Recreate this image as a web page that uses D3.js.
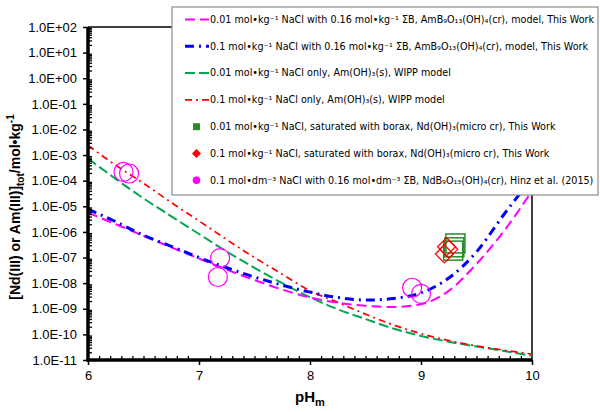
<!DOCTYPE html>
<html><head><meta charset="utf-8">
<script src="https://cdn.jsdelivr.net/npm/d3@7"></script>
<style>body{margin:0;background:#fff}svg{display:block}</style>
</head><body>
<svg id="c" width="600" height="412"></svg>
<script>
// ---- data ----
const pHGrid = [6.0,6.25,6.5,6.75,7.0,7.25,7.5,7.75,8.0,8.25,8.5,8.75,9.0,9.25,9.5,9.75,10.0];
const model001B = [5.62e-6,2.00e-6,7.08e-7,2.51e-7,9.12e-8,3.39e-8,1.32e-8,5.62e-9,2.75e-9,1.74e-9,1.32e-9,1.17e-9,1.51e-9,5.01e-9,5.62e-8,1.12e-6,3.98e-5];
const model01B  = [7.76e-6,2.51e-6,7.41e-7,2.75e-7,1.00e-7,3.98e-8,1.74e-8,8.32e-9,4.47e-9,2.75e-9,2.19e-9,2.51e-9,4.17e-9,1.58e-8,1.66e-7,5.01e-6,1.26e-4];
const wipp001   = [7.41e-4,1.17e-4,2.04e-5,4.07e-6,8.32e-7,1.70e-7,3.98e-8,1.00e-8,2.82e-9,9.55e-10,3.98e-10,1.70e-10,8.71e-11,5.13e-11,3.39e-11,2.24e-11,1.45e-11];
const wipp01    = [2.40e-3,3.98e-4,7.94e-5,1.41e-5,2.69e-6,5.01e-7,1.00e-7,2.24e-8,5.01e-9,1.78e-9,6.17e-10,2.34e-10,1.07e-10,5.75e-11,3.55e-11,2.40e-11,1.70e-11];
const borax001PH = [9.31,9.29,9.30];
const borax001C  = [3.55e-7,1.86e-7,2.51e-7];
const borax01PH  = [9.23,9.21,9.25];
const borax01C   = [2.63e-7,1.38e-7,2.09e-7];
const hinzPH = [6.32,6.37,7.19,7.17,8.92,9.00];
const hinzC  = [2.19e-4,1.91e-4,9.55e-8,1.74e-8,6.61e-9,3.80e-9];
const xTicks = [6,7,8,9,10];
const yTicks = [1e2,1e1,1e0,1e-1,1e-2,1e-3,1e-4,1e-5,1e-6,1e-7,1e-8,1e-9,1e-10,1e-11];
const yTickLabels = ["1.0E+02","1.0E+01","1.0E+00","1.0E-01","1.0E-02","1.0E-03","1.0E-04","1.0E-05","1.0E-06","1.0E-07","1.0E-08","1.0E-09","1.0E-10","1.0E-11"];
const legendTexts = [
  "0.01 mol\u2022kg\u207B\u00B9 NaCl with 0.16 mol\u2022kg\u207B\u00B9 \u03A3B, AmB\u2089O\u2081\u2083(OH)\u2084(cr), model, This Work",
  "0.1 mol\u2022kg\u207B\u00B9 NaCl with 0.16 mol\u2022kg\u207B\u00B9 \u03A3B, AmB\u2089O\u2081\u2083(OH)\u2084(cr), model, This Work",
  "0.01 mol\u2022kg\u207B\u00B9 NaCl only, Am(OH)\u2083(s), WIPP model",
  "0.1 mol\u2022kg\u207B\u00B9 NaCl only, Am(OH)\u2083(s), WIPP model",
  "0.01 mol\u2022kg\u207B\u00B9 NaCl, saturated with borax, Nd(OH)\u2083(micro cr), This Work",
  "0.1 mol\u2022kg\u207B\u00B9 NaCl, saturated with borax, Nd(OH)\u2083(micro cr), This Work",
  "0.1 mol\u2022dm\u207B\u00B3 NaCl with 0.16 mol\u2022dm\u207B\u00B3 \u03A3B, NdB\u2089O\u2081\u2083(OH)\u2084(cr), Hinz et al. (2015)"
];

// ---- layout ----
const L = 88, R = 532, T = 27, B = 360;
const svg = d3.select("#c");
const x = d3.scaleLinear().domain([6,10]).range([L,R]);
const y = d3.scaleLog().domain([1e-11,1e2]).range([B,T]);
const tickFont = "'Liberation Sans', Arial, sans-serif";

// frame (top/right thin)
svg.append("line").attr("x1",L).attr("x2",R).attr("y1",T).attr("y2",T).attr("stroke","#000").attr("stroke-width",1.5);
svg.append("line").attr("x1",R).attr("x2",R).attr("y1",T).attr("y2",B).attr("stroke","#000").attr("stroke-width",1.5);

// clip
svg.append("clipPath").attr("id","clip").append("rect").attr("x",L).attr("y",T).attr("width",R-L).attr("height",B-T);
const plot = svg.append("g").attr("clip-path","url(#clip)");

const series = [
  {v:model001B, color:"#ff00ff", w:2, dash:"10,5"},
  {v:model01B,  color:"#0000ff", w:3, dash:"9,5,2,5"},
  {v:wipp001,   color:"#00a651", w:2, dash:"10,4"},
  {v:wipp01,    color:"#ff0000", w:1.7, dash:"7,4,2,4"}
];
const line = d3.line().x(d=>x(d[0])).y(d=>y(d[1])).curve(d3.curveMonotoneX);
// draw order: green, red, magenta, blue
[2,3,0,1].forEach(i=>{
  const s = series[i];
  plot.append("path").datum(pHGrid.map((p,k)=>[p,s.v[k]]))
    .attr("d",line).attr("fill","none").attr("stroke",s.color)
    .attr("stroke-width",s.w).attr("stroke-dasharray",s.dash);
});

// markers
plot.selectAll(".hz").data(hinzPH.map((p,k)=>[p,hinzC[k]])).join("circle")
  .attr("cx",d=>x(d[0])).attr("cy",d=>y(d[1])).attr("r",9.5)
  .attr("fill","none").attr("stroke","#ff00ff").attr("stroke-width",1.2);
plot.selectAll(".sq").data(borax001PH.map((p,k)=>[p,borax001C[k]])).join("rect")
  .attr("x",d=>x(d[0])-9.5).attr("y",d=>y(d[1])-9.5).attr("width",19).attr("height",19)
  .attr("fill","none").attr("stroke","#2a8a2a").attr("stroke-width",1.5);
plot.selectAll(".dm").data(borax01PH.map((p,k)=>[p,borax01C[k]])).join("path")
  .attr("d",d=>{const cx=x(d[0]),cy=y(d[1]),h=9;return `M${cx},${cy-h}L${cx+h},${cy}L${cx},${cy+h}L${cx-h},${cy}Z`;})
  .attr("fill","none").attr("stroke","#ff0000").attr("stroke-width",1.2);

// axes
const yAx = svg.append("g").attr("transform",`translate(${L},0)`)
  .call(d3.axisLeft(y).tickValues(yTicks).tickSize(5).tickFormat((d,i)=>yTickLabels[i]));
yAx.select(".domain").remove();
yAx.selectAll("line").attr("stroke","#000").attr("stroke-width",1.5);
yAx.selectAll("text").attr("font-family",tickFont).attr("font-size",13).attr("fill","#000").attr("dx",-3);

const minorY = [];
for (let e=-11;e<2;e++) for (let m=2;m<=9;m++) minorY.push(m*Math.pow(10,e));
const yMin = svg.append("g").attr("transform",`translate(${L},0)`)
  .call(d3.axisRight(y).tickValues(minorY).tickSize(4).tickFormat(""));
yMin.select(".domain").remove();
yMin.selectAll("line").attr("stroke","#000").attr("stroke-width",1.3);

const xAx = svg.append("g").attr("transform",`translate(0,${B})`)
  .call(d3.axisBottom(x).tickValues(xTicks).tickSize(5).tickFormat(d3.format("d")));
xAx.select(".domain").remove();
xAx.selectAll("line").attr("stroke","#000").attr("stroke-width",1.5);
xAx.selectAll("text").attr("font-family",tickFont).attr("font-size",13).attr("fill","#000").attr("dy","0.95em");

const minorX = d3.range(61,100).map(v=>v/10).filter(v=>Math.abs(v-Math.round(v))>1e-6);
const xMin = svg.append("g").attr("transform",`translate(0,${B})`)
  .call(d3.axisTop(x).tickValues(minorX).tickSize(4).tickFormat(""));
xMin.select(".domain").remove();
xMin.selectAll("line").attr("stroke","#000").attr("stroke-width",1.3);

// thick axis lines
svg.append("line").attr("x1",L).attr("x2",L).attr("y1",T).attr("y2",B+1.5).attr("stroke","#000").attr("stroke-width",3.5);
svg.append("line").attr("x1",L-1.5).attr("x2",R).attr("y1",B).attr("y2",B).attr("stroke","#000").attr("stroke-width",3.5);

// axis titles
const xt = svg.append("text").attr("x",310).attr("y",402).attr("text-anchor","middle")
  .attr("font-family",tickFont).attr("font-size",15).attr("font-weight","bold");
xt.append("tspan").text("pH");
xt.append("tspan").attr("font-size",11).attr("dy",4).text("m");

const yt = svg.append("text").attr("transform","translate(20,207) rotate(-90)").attr("text-anchor","middle")
  .attr("font-family",tickFont).attr("font-size",14).attr("font-weight","bold");
yt.append("tspan").text("[Nd(III) or Am(III)]");
yt.append("tspan").attr("font-size",10).attr("dy",4).text("tot");
yt.append("tspan").attr("dy",-4).text("/mol\u2022kg");
yt.append("tspan").attr("font-size",10).attr("dy",-6).text("-1");

// legend
const lg = svg.append("g");
lg.append("rect").attr("x",172).attr("y",7).attr("width",426).attr("height",188)
  .attr("fill","#fff").attr("stroke","#8c8c8c").attr("stroke-width",1.2);
const rowY = i => 19.5 + 26.8*i;
legendTexts.forEach((t,i)=>{
  const cy = rowY(i);
  if (i<4) {
    const s = series[i];
    lg.append("line").attr("x1",185).attr("x2",209).attr("y1",cy).attr("y2",cy)
      .attr("stroke",s.color).attr("stroke-width",s.w).attr("stroke-dasharray",s.dash);
  } else if (i===4) {
    lg.append("rect").attr("x",193).attr("y",cy-3.5).attr("width",7).attr("height",7).attr("fill","#2a8a2a");
  } else if (i===5) {
    lg.append("path").attr("d",`M196.5,${cy-4.5}L201,${cy}L196.5,${cy+4.5}L192,${cy}Z`).attr("fill","#ff0000");
  } else {
    lg.append("circle").attr("cx",196.5).attr("cy",cy).attr("r",3.8).attr("fill","#ff00ff");
  }
  lg.append("text").attr("x",210).attr("y",cy).attr("dy","0.35em")
    .attr("font-family","'DejaVu Sans', Verdana, sans-serif").attr("font-size",9.6).attr("fill","#000").text(t);
});
</script>
</body></html>
